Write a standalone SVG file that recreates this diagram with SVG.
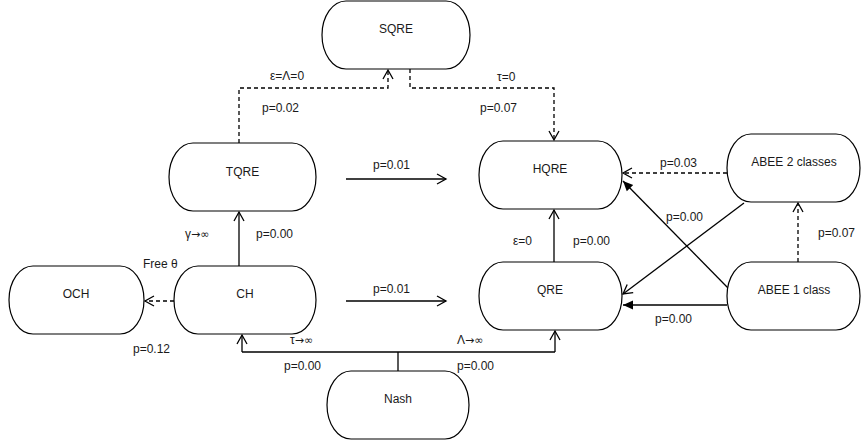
<svg xmlns="http://www.w3.org/2000/svg" width="861" height="443" viewBox="0 0 861 443">
<style>
.node rect{fill:#fff;stroke:#000;stroke-width:1.2}
text{font-family:"Liberation Sans",Arial,sans-serif;font-size:12px;fill:#1a1a1a}
.nt{text-anchor:middle}
.sym{font-family:"DejaVu Sans",sans-serif;font-size:11px}
.ln{fill:none;stroke:#000;stroke-width:1.3}
.ds{stroke-dasharray:4,3}
</style>
<defs>
<marker id="open" markerWidth="12" markerHeight="12" refX="10" refY="6" orient="auto" markerUnits="userSpaceOnUse">
<path d="M1,1 L10,6 L1,11" fill="none" stroke="#000" stroke-width="1.3"/>
</marker>
<marker id="fill" markerWidth="12" markerHeight="12" refX="10" refY="6" orient="auto" markerUnits="userSpaceOnUse">
<path d="M0,1.5 L10,6 L0,10.5 Z" fill="#000"/>
</marker>
</defs>
<rect width="861" height="443" fill="#fff"/>
<g id="connectors">
<path class="ln ds" d="M239,143 V88 H388 V70" marker-end="url(#open)"/>
<path class="ln ds" d="M410,69 V88 H554 V140" marker-end="url(#open)"/>
<path class="ln" d="M346,179 H446" marker-end="url(#open)"/>
<path class="ln" d="M346,301 H446" marker-end="url(#open)"/>
<path class="ln" d="M239,267 V212" marker-end="url(#open)"/>
<path class="ln ds" d="M174,301 H145" marker-end="url(#open)"/>
<path class="ln" d="M398,371 V352"/>
<path class="ln" d="M242,352 H555"/>
<path class="ln" d="M242,352 V335" marker-end="url(#open)"/>
<path class="ln" d="M555,352 V331" marker-end="url(#open)"/>
<path class="ln" d="M554,262 V210" marker-end="url(#open)"/>
<path class="ln ds" d="M727,173 H623" marker-end="url(#open)"/>
<path class="ln" d="M728,288 L623,181" marker-end="url(#fill)"/>
<path class="ln" d="M744,203 L623,294" marker-end="url(#open)"/>
<path class="ln" d="M727,305 H623" marker-end="url(#fill)"/>
<path class="ln ds" d="M798,262 V203" marker-end="url(#open)"/>
</g>
<g id="SQRE" class="node"><rect x="322" y="1" width="148" height="68" rx="24" ry="34"/><text class="nt" x="396" y="33">SQRE</text></g>
<g id="TQRE" class="node"><rect x="169" y="143" width="147" height="68" rx="24" ry="34"/><text class="nt" x="242.5" y="176">TQRE</text></g>
<g id="HQRE" class="node"><rect x="479" y="141" width="143" height="68" rx="24" ry="34"/><text class="nt" x="550" y="173">HQRE</text></g>
<g id="QRE" class="node"><rect x="479" y="262" width="143" height="68" rx="24" ry="34"/><text class="nt" x="550" y="294">QRE</text></g>
<g id="ABEE2" class="node"><rect x="727" y="134" width="133" height="68" rx="24" ry="34"/><text class="nt" x="794" y="166">ABEE 2 classes</text></g>
<g id="ABEE1" class="node"><rect x="727" y="262" width="133" height="68" rx="24" ry="34"/><text class="nt" x="794" y="294">ABEE 1 class</text></g>
<g id="OCH" class="node"><rect x="9" y="266" width="135" height="68" rx="24" ry="34"/><text class="nt" x="76" y="298">OCH</text></g>
<g id="CH" class="node"><rect x="174" y="266" width="142" height="68" rx="24" ry="34"/><text class="nt" x="245" y="298">CH</text></g>
<g id="Nash" class="node"><rect x="327" y="371" width="142" height="68" rx="24" ry="34"/><text class="nt" x="398" y="403">Nash</text></g>
<g id="labels">
<text x="270" y="80">ε=Λ=0</text>
<text x="262" y="112">p=0.02</text>
<text x="497" y="81">τ=0</text>
<text x="480" y="112">p=0.07</text>
<text x="373" y="169">p=0.01</text>
<text x="373" y="293">p=0.01</text>
<text x="185" y="238">γ<tspan class="sym">→∞</tspan></text>
<text x="256" y="238">p=0.00</text>
<text x="143" y="268">Free θ</text>
<text x="133" y="353">p=0.12</text>
<text x="290" y="344">τ<tspan class="sym">→∞</tspan></text>
<text x="457" y="344">Λ<tspan class="sym">→∞</tspan></text>
<text x="284" y="370">p=0.00</text>
<text x="457" y="370">p=0.00</text>
<text x="513" y="245">ε=0</text>
<text x="573" y="245">p=0.00</text>
<text x="660" y="167">p=0.03</text>
<text x="666" y="221">p=0.00</text>
<text x="655" y="323">p=0.00</text>
<text x="818" y="237">p=0.07</text>
</g>
</svg>
